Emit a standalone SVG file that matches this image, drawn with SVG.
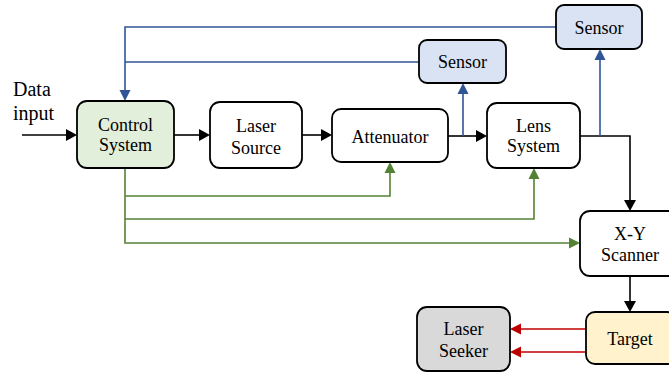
<svg xmlns="http://www.w3.org/2000/svg" width="669" height="374" viewBox="0 0 669 374">
<style>
.box{stroke:#000;stroke-width:1.8}
text{font-family:'Liberation Serif','Times New Roman','DejaVu Serif',serif;font-size:18px;fill:#000;text-anchor:middle}
.k{stroke:#000;stroke-width:1.6;fill:none}
.b{stroke:#2f5597;stroke-width:1.6;fill:none}
.g{stroke:#548235;stroke-width:1.6;fill:none}
.r{stroke:#c00000;stroke-width:1.6;fill:none}
.lbl{font-size:20px;text-anchor:start}
</style>
<rect width="669" height="374" fill="#fff"/>
<g id="connectors">
<path class="k" d="M22,135 H66"/><path d="M66,129 L77,135 L66,141 z" fill="#000"/>
<path class="k" d="M174,135 H199"/><path d="M199,129 L210,135 L199,141 z" fill="#000"/>
<path class="k" d="M302,135 H321"/><path d="M321,129 L332,135 L321,141 z" fill="#000"/>
<path class="k" d="M448,136 H476"/><path d="M476,130 L487,136 L476,142 z" fill="#000"/>
<path class="k" d="M580,136 H630 V200"/><path d="M624,200 L630,211 L636,200 z" fill="#000"/>
<path class="k" d="M630,276 V301"/><path d="M624,301 L630,312 L636,301 z" fill="#000"/>
<path class="b" d="M556,27 H125 V90"/><path d="M119.5,90 L125,101 L130.5,90 z" fill="#2f5597"/>
<path class="b" d="M419,62 H125"/>
<path class="b" d="M463,136 V94"/><path d="M457.5,94 L463,83 L468.5,94 z" fill="#2f5597"/>
<path class="b" d="M600,136 V60"/><path d="M594.5,60 L600,49 L605.5,60 z" fill="#2f5597"/>
<path class="g" d="M125,168 V243 H569"/><path d="M569,237.5 L580,243 L569,248.5 z" fill="#548235"/>
<path class="g" d="M125,196 H390 V173"/><path d="M384.5,173 L390,162 L395.5,173 z" fill="#548235"/>
<path class="g" d="M125,219 H534 V179"/><path d="M528.5,179 L534,168 L539.5,179 z" fill="#548235"/>
<path class="r" d="M586,329 H521"/><path d="M521,323.5 L510,329 L521,334.5 z" fill="#c00000"/>
<path class="r" d="M586,352 H521"/><path d="M521,346.5 L510,352 L521,357.5 z" fill="#c00000"/>
</g>
<g id="data-input"><text class="lbl" x="13" y="96">Data</text><text class="lbl" x="13" y="120">input</text></g>
<g id="control-system"><rect class="box" x="77" y="101" width="97" height="67" rx="10" fill="#e2efda"/><text x="125.5" y="131">Control</text><text x="125.5" y="151">System</text></g>
<g id="laser-source"><rect class="box" x="210" y="102" width="92" height="66" rx="10" fill="#fff"/><text x="256" y="132">Laser</text><text x="256" y="154">Source</text></g>
<g id="attenuator"><rect class="box" x="332" y="109" width="116" height="53" rx="9" fill="#fff"/><text x="390" y="142.5">Attenuator</text></g>
<g id="lens-system"><rect class="box" x="487" y="103" width="93" height="65" rx="10" fill="#fff"/><text x="533.5" y="132">Lens</text><text x="533.5" y="152">System</text></g>
<g id="sensor-1"><rect class="box" x="419" y="40" width="87" height="43" rx="8" fill="#dae3f3"/><text x="462.5" y="68">Sensor</text></g>
<g id="sensor-2"><rect class="box" x="556" y="5" width="86" height="44" rx="8" fill="#dae3f3"/><text x="599" y="34">Sensor</text></g>
<g id="xy-scanner"><rect class="box" x="580" y="211" width="100" height="65" rx="10" fill="#fff"/><text x="630" y="240">X-Y</text><text x="630" y="261">Scanner</text></g>
<g id="target"><rect class="box" x="586" y="312" width="90" height="52" rx="9" fill="#fff2cc"/><text x="630" y="345">Target</text></g>
<g id="laser-seeker"><rect class="box" x="417" y="307" width="93" height="64" rx="10" fill="#d9d9d9"/><text x="463.5" y="335">Laser</text><text x="463.5" y="357">Seeker</text></g>
</svg>
